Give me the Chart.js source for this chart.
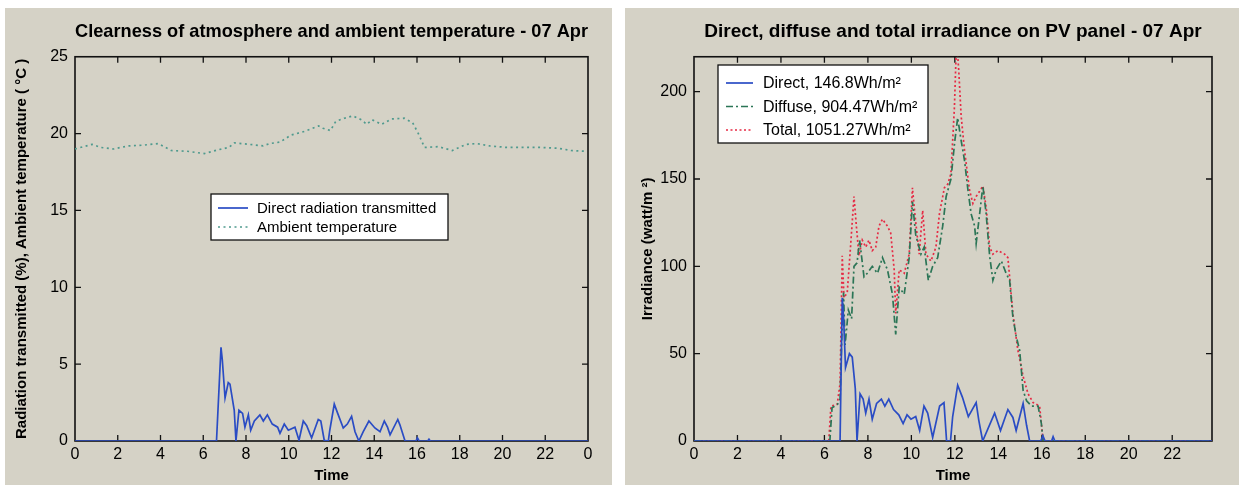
<!DOCTYPE html>
<html>
<head>
<meta charset="utf-8">
<script src="https://cdn.jsdelivr.net/npm/chart.js@4.4.0/dist/chart.umd.min.js"></script>
<style>
  html, body { margin: 0; padding: 0; background: #ffffff; }
  body { position: relative; width: 1249px; height: 485px; overflow: hidden; }
  .panel { position: absolute; background: #d5d2c6; }
  #panelA { left: 5px; top: 8px; width: 607px; height: 477px; }
  #panelB { left: 625px; top: 8px; width: 614px; height: 477px; }
  canvas { display: block; }
</style>
</head>
<body>
<div class="panel" id="panelA"><canvas id="clearness" width="607" height="477"></canvas></div>
<div class="panel" id="panelB"><canvas id="irradiance" width="614" height="477"></canvas></div>
<script>
// ---- axis ticks ----
const hourTicks = [0, 2, 4, 6, 8, 10, 12, 14, 16, 18, 20, 22, 24];
const hourLabelsA = ['0', '2', '4', '6', '8', '10', '12', '14', '16', '18', '20', '22', '0'];
const hourLabelsB = ['0', '2', '4', '6', '8', '10', '12', '14', '16', '18', '20', '22'];
const pctTempTicks = [0, 5, 10, 15, 20, 25];
const irrTicks = [0, 50, 100, 150, 200];

// ---- 07 Apr: direct radiation transmitted (%) ----
const directPctTime = [0, 6.62, 6.83, 6.89, 7.02, 7.17, 7.25, 7.45, 7.53, 7.67, 7.84, 7.95, 8.11, 8.22, 8.39,
  8.65, 8.81, 9.0, 9.23, 9.48, 9.59, 9.79, 9.98, 10.29, 10.48, 10.68, 10.84, 11.07, 11.38, 11.5, 11.66,
  11.85, 11.92, 12.13, 12.29, 12.55, 12.74, 12.94, 13.1, 13.28, 13.48, 13.75, 14.03, 14.27, 14.47, 14.62,
  14.74, 15.1, 15.2, 15.44, 15.95, 16.02, 16.1, 16.5, 16.56, 16.62, 24];
const directPct = [0, 0, 6.1, 5.3, 2.8, 3.8, 3.7, 2.0, 0, 2.0, 1.8, 0.9, 1.7, 0.7, 1.3,
  1.7, 1.3, 1.7, 1.1, 0.9, 0.5, 1.1, 0.7, 0.9, 0.05, 1.3, 1.0, 0.2, 1.4, 1.3, 0.05,
  0, 0.7, 2.4, 1.8, 0.85, 1.1, 1.6, 0.6, 0, 0.6, 1.3, 0.85, 0.6, 1.3, 0.9,
  0.4, 1.4, 1.05, 0, 0, 0.2, 0, 0, 0.12, 0, 0];

// ---- 07 Apr: ambient temperature (°C) ----
const ambientTime = [0, 0.8, 1.2, 1.8, 2.5, 3.2, 3.9, 4.5, 5.25, 6.05, 6.7, 7.2, 7.45, 8.15, 8.8, 9.1, 9.6,
  10.1, 10.75, 11.4, 11.6, 11.95, 12.2, 12.6, 13.0, 13.4, 13.65, 13.9, 14.35, 14.8, 15.4, 15.8, 16.1,
  16.35, 17.0, 17.65, 18.3, 18.8, 19.4, 20.2, 21.0, 21.8, 22.6, 23.2, 23.85];
const ambientTemp = [19.0, 19.3, 19.1, 19.0, 19.2, 19.25, 19.35, 18.9, 18.85, 18.7, 18.95, 19.1, 19.4, 19.3, 19.2, 19.35, 19.45,
  19.9, 20.15, 20.5, 20.35, 20.2, 20.8, 21.0, 21.15, 20.9, 20.6, 20.9, 20.6, 20.95, 21.0, 20.7, 19.9,
  19.1, 19.15, 18.9, 19.3, 19.35, 19.2, 19.1, 19.1, 19.1, 19.05, 18.9, 18.85];

// ---- 07 Apr: irradiance on the PV panel (W/m²) ----
const directTime = [0, 6.72, 6.82, 6.88, 6.97, 7.15, 7.28, 7.42, 7.5, 7.64, 7.78, 7.9, 8.05, 8.2, 8.4, 8.62,
  8.78, 8.96, 9.18, 9.42, 9.62, 9.8, 9.98, 10.2, 10.38, 10.58, 10.75, 10.98, 11.3, 11.5, 11.62, 11.8, 11.9,
  12.13, 12.35, 12.62, 12.98, 13.1, 13.28, 13.83, 14.1, 14.44, 14.67, 14.82, 15.14, 15.3, 15.44,
  15.95, 16.05, 16.15, 16.45, 16.52, 16.6, 23.83];
const directIrr = [0, 0, 82, 71, 42, 50, 48, 30, 0, 27, 24, 16, 24, 12.5, 21.5, 24,
  20, 24, 18, 15, 10, 15, 12.5, 14, 6, 20, 16, 2, 20, 22, 0, 0, 14,
  32, 25, 14, 22, 12, 0, 16, 6, 18, 13.5, 6, 21.5, 9, 0,
  0, 3, 0, 0, 2.5, 0, 0];

const diffuseTime = [0, 6.25, 6.35, 6.6, 6.72, 6.8, 6.88, 6.95, 7.1, 7.25, 7.36, 7.5, 7.62, 7.82, 7.97, 8.2,
  8.44, 8.67, 8.9, 9.13, 9.28, 9.44, 9.67, 9.9, 10.05, 10.2, 10.44, 10.59, 10.78, 10.98, 11.21, 11.44,
  11.6, 11.82, 12.0, 12.13, 12.29, 12.44, 12.6, 12.75, 12.91, 12.98, 13.14, 13.29, 13.44, 13.6, 13.75,
  13.9, 14.14, 14.36, 14.52, 14.67, 14.82, 14.98, 15.14, 15.3, 15.53, 15.83, 15.98, 16.06, 23.83];
const diffuseIrr = [0, 0, 19, 21, 24, 60, 85, 55, 75, 70, 100, 102, 115, 94, 96, 100,
  96, 105, 98, 84, 61, 88, 84, 105, 137, 118, 107, 111, 92, 100, 105, 123,
  140, 150, 172, 185, 172, 161, 144, 130, 123, 113, 130, 146, 130, 106, 92,
  98, 103, 96, 92, 71, 60, 52, 29, 23, 20, 20, 10, 0, 0];

const totalTime = [0, 6.2, 6.3, 6.59, 6.72, 6.82, 6.9, 7.05, 7.2, 7.36, 7.47, 7.59, 7.74, 7.9, 8.05, 8.2,
  8.36, 8.51, 8.67, 8.9, 9.05, 9.21, 9.28, 9.44, 9.67, 9.9, 10.05, 10.16, 10.36, 10.52, 10.67, 10.9,
  11.13, 11.29, 11.52, 11.67, 11.82, 11.98, 12.08, 12.18, 12.29, 12.44, 12.67, 12.83, 12.98, 13.14, 13.29,
  13.44, 13.6, 13.75, 13.98, 14.29, 14.44, 14.67, 14.9, 15.14, 15.37, 15.6, 15.9, 16.06, 23.83];
const totalIrr = [0, 0, 20, 21, 33, 106, 82, 85, 111, 140, 123, 106, 115, 111, 115, 109,
  111, 123, 127, 123, 119, 98, 73, 98, 96, 107, 145, 130, 107, 132, 107, 103,
  111, 130, 145, 147, 153, 191, 230, 212, 186, 167, 144, 136, 140, 143, 146,
  134, 111, 107, 109, 107, 105, 73, 52, 37, 27, 22, 20, 0, 0];

const pairs = (xs, ys) => xs.map((x, i) => ({ x, y: ys[i] }));

Chart.defaults.font.family = "'Liberation Sans', Arial, sans-serif";
Chart.defaults.color = '#000';

// box frame with inward tick marks on all four sides
const framePlugin = {
  id: 'frame',
  beforeDatasetsDraw(chart, args, opts) {
    const { ctx, chartArea: a, scales: { x, y } } = chart;
    const len = opts.tickLength;
    ctx.save();
    ctx.strokeStyle = '#111';
    ctx.lineWidth = 1.3;
    ctx.beginPath();
    x.ticks.forEach(t => {
      const px = x.getPixelForValue(t.value);
      if (px <= a.left + 1 || px >= a.right - 1) return;
      ctx.moveTo(px, a.bottom); ctx.lineTo(px, a.bottom - len);
      ctx.moveTo(px, a.top); ctx.lineTo(px, a.top + len);
    });
    y.ticks.forEach(t => {
      const py = y.getPixelForValue(t.value);
      if (py <= a.top + 1 || py >= a.bottom - 1) return;
      ctx.moveTo(a.left, py); ctx.lineTo(a.left + len, py);
      ctx.moveTo(a.right, py); ctx.lineTo(a.right - len, py);
    });
    ctx.stroke();
    ctx.lineWidth = 1.6;
    ctx.strokeRect(a.left, a.top, a.right - a.left, a.bottom - a.top);
    ctx.restore();
  }
};

// legend box placed inside the axes
const boxLegendPlugin = {
  id: 'boxLegend',
  afterDraw(chart, args, o) {
    const { ctx } = chart;
    ctx.save();
    ctx.fillStyle = '#ffffff';
    ctx.fillRect(o.x, o.y, o.w, o.h);
    ctx.strokeStyle = '#111';
    ctx.lineWidth = 1.3;
    ctx.strokeRect(o.x, o.y, o.w, o.h);
    ctx.font = o.font;
    ctx.textBaseline = 'middle';
    chart.data.datasets.forEach((ds, i) => {
      const cy = o.y + o.firstRow + i * o.rowHeight;
      ctx.strokeStyle = ds.borderColor;
      ctx.lineWidth = ds.borderWidth;
      ctx.setLineDash(ds.borderDash || []);
      ctx.beginPath();
      ctx.moveTo(o.x + o.lineFrom, cy);
      ctx.lineTo(o.x + o.lineTo, cy);
      ctx.stroke();
      ctx.setLineDash([]);
      ctx.fillStyle = '#000';
      ctx.fillText(ds.label, o.x + o.textX, cy + 1);
    });
    ctx.restore();
  }
};

const tickFont = { size: 16 };

function timeAxis(max, labels) {
  return {
    type: 'linear', min: 0, max: max,
    afterBuildTicks: s => { s.ticks = hourTicks.filter(v => v <= max + 1e-9).map(v => ({ value: v })); },
    afterFit: s => { s.height = 44; },
    grid: { display: false, drawTicks: false },
    border: { display: false },
    ticks: { font: tickFont, padding: 4, maxRotation: 0, autoSkip: false,
      callback: (v, i) => labels[i] },
    title: { display: true, text: 'Time', font: { size: 15, weight: 'bold' }, padding: { top: 0, bottom: 0 } }
  };
}

function valueAxis(max, ticks, width, titleText, titleGap) {
  return {
    type: 'linear', min: 0, max: max,
    afterBuildTicks: s => { s.ticks = ticks.map(v => ({ value: v })); },
    afterFit: s => { s.width = width; },
    grid: { display: false, drawTicks: false },
    border: { display: false },
    ticks: { font: tickFont, padding: 7, autoSkip: false },
    title: { display: true, text: titleText, font: { size: 15, weight: 'bold' }, padding: { top: titleGap, bottom: 0 } }
  };
}

const lineBase = { pointRadius: 0, borderWidth: 1.7, tension: 0, fill: false };

new Chart(document.getElementById('clearness'), {
  type: 'line',
  data: {
    datasets: [
      { ...lineBase, label: 'Direct radiation transmitted', data: pairs(directPctTime, directPct),
        borderColor: '#2a4cc4' },
      { ...lineBase, label: 'Ambient temperature', data: pairs(ambientTime, ambientTemp),
        borderColor: '#4f9a8e', borderDash: [2, 3.5] }
    ]
  },
  options: {
    responsive: false, animation: false, devicePixelRatio: 1,
    layout: { padding: { left: 0, right: 24, top: 0, bottom: 0 } },
    scales: {
      x: timeAxis(24, hourLabelsA),
      y: valueAxis(25, pctTempTicks, 70, 'Radiation transmitted (%), Ambient temperature ( °C )', 8)
    },
    plugins: {
      legend: { display: false },
      tooltip: { enabled: false },
      title: { display: true, fullSize: false, text: 'Clearness of atmosphere and ambient temperature - 07 Apr',
        font: { size: 19, weight: 'bold', lineHeight: 1.25 }, padding: { top: 12, bottom: 13 } },
      frame: { tickLength: 6 },
      boxLegend: { x: 206, y: 186, w: 237, h: 46, firstRow: 14, rowHeight: 19,
        lineFrom: 7, lineTo: 37, textX: 46, font: "15px 'Liberation Sans', Arial, sans-serif" }
    }
  },
  plugins: [framePlugin, boxLegendPlugin]
});

new Chart(document.getElementById('irradiance'), {
  type: 'line',
  data: {
    datasets: [
      { ...lineBase, label: 'Direct, 146.8Wh/m²', data: pairs(directTime, directIrr),
        borderColor: '#2a4cc4' },
      { ...lineBase, label: 'Diffuse, 904.47Wh/m²', data: pairs(diffuseTime, diffuseIrr),
        borderColor: '#2b7556', borderDash: [7, 3, 2, 3] },
      { ...lineBase, label: 'Total, 1051.27Wh/m²', data: pairs(totalTime, totalIrr),
        borderColor: '#e62a44', borderDash: [2, 2.5] }
    ]
  },
  options: {
    responsive: false, animation: false, devicePixelRatio: 1,
    layout: { padding: { left: 0, right: 27, top: 0, bottom: 0 } },
    scales: {
      x: timeAxis(23.83, hourLabelsB),
      y: valueAxis(220, irrTicks, 69, 'Irradiance (watt/m ²)', 14)
    },
    plugins: {
      legend: { display: false },
      tooltip: { enabled: false },
      title: { display: true, fullSize: false, text: 'Direct, diffuse and total irradiance on PV panel - 07 Apr',
        font: { size: 19, weight: 'bold', lineHeight: 1.25 }, padding: { top: 12, bottom: 13 } },
      frame: { tickLength: 6 },
      boxLegend: { x: 93, y: 57, w: 210, h: 78, firstRow: 18, rowHeight: 23.5,
        lineFrom: 8, lineTo: 35, textX: 45, font: "16px 'Liberation Sans', Arial, sans-serif" }
    }
  },
  plugins: [framePlugin, boxLegendPlugin]
});
</script>
</body>
</html>
